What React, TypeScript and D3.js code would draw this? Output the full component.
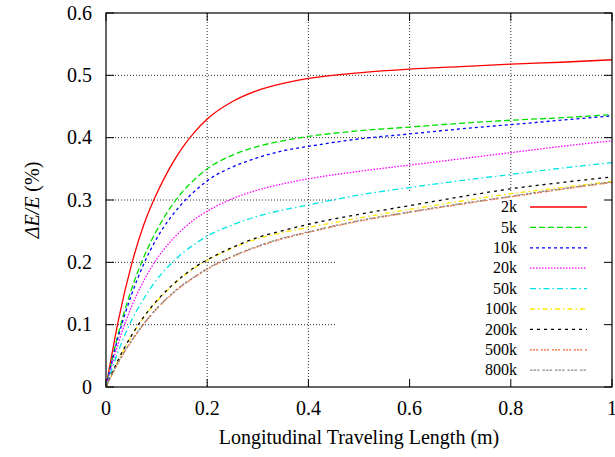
import React from 'react';
import * as d3 from 'd3';

const lengths = [0, 0.025, 0.05, 0.075, 0.1, 0.125, 0.15, 0.175, 0.2, 0.25, 0.3, 0.35, 0.4, 0.5, 0.6, 0.7, 0.8, 0.9, 1.0];

const s2k = [0, 0.109, 0.195, 0.261, 0.31, 0.35, 0.383, 0.409, 0.43, 0.458, 0.476, 0.487, 0.495, 0.504, 0.51, 0.514, 0.518, 0.521, 0.525];
const s5k = [0, 0.088, 0.156, 0.209, 0.251, 0.285, 0.312, 0.333, 0.35, 0.372, 0.386, 0.395, 0.402, 0.411, 0.417, 0.423, 0.428, 0.432, 0.437];
const s10k = [0, 0.083, 0.147, 0.198, 0.238, 0.269, 0.294, 0.314, 0.331, 0.353, 0.368, 0.379, 0.386, 0.398, 0.406, 0.414, 0.421, 0.428, 0.435];
const s20k = [0, 0.072, 0.128, 0.171, 0.205, 0.231, 0.252, 0.269, 0.282, 0.302, 0.316, 0.326, 0.334, 0.346, 0.356, 0.366, 0.376, 0.386, 0.395];
const s50k = [0, 0.059, 0.106, 0.142, 0.172, 0.195, 0.214, 0.229, 0.242, 0.26, 0.274, 0.284, 0.292, 0.308, 0.32, 0.331, 0.341, 0.351, 0.36];
const s100k = [0, 0.044, 0.081, 0.112, 0.137, 0.158, 0.176, 0.191, 0.203, 0.223, 0.238, 0.248, 0.256, 0.271, 0.285, 0.298, 0.31, 0.32, 0.33];
const s200k = [0, 0.045, 0.082, 0.113, 0.138, 0.159, 0.177, 0.192, 0.204, 0.224, 0.24, 0.251, 0.261, 0.277, 0.291, 0.305, 0.318, 0.328, 0.337];
const s500k = [0, 0.04, 0.073, 0.101, 0.125, 0.145, 0.162, 0.176, 0.189, 0.209, 0.225, 0.238, 0.248, 0.266, 0.28, 0.293, 0.305, 0.317, 0.328];
const s800k = [0, 0.041, 0.074, 0.102, 0.126, 0.146, 0.163, 0.177, 0.19, 0.21, 0.226, 0.239, 0.249, 0.267, 0.281, 0.294, 0.306, 0.318, 0.329];

const names = ['2k', '5k', '10k', '20k', '50k', '100k', '200k', '500k', '800k'];
const seriesValues = [s2k, s5k, s10k, s20k, s50k, s100k, s200k, s500k, s800k];
const colors = ['#ff0000', '#00e000', '#0000ff', '#ff00ff', '#00e5e5', '#ffe800', '#000000', '#ff6a30', '#8a8a8a'];
const dashes = ['', '6,3', '3,3', '1.5,1.5', '6,3,1.5,3', '5,3,1.5,3', '3,4', '2,1,2,1,2,3', '2.5,1,2.5,1,2.5,3'];

const xTicks = [0, 0.2, 0.4, 0.6, 0.8, 1];
const yTicks = [0, 0.1, 0.2, 0.3, 0.4, 0.5, 0.6];

const W = 615;
const H = 457;
const L = 106, R = 612, T = 13, B = 387;
const font = '"Liberation Serif", "Times New Roman", serif';
const tickFont = {fontFamily: font, fontSize: '20px'};
const keyFont = {fontFamily: font, fontSize: '16px'};

export default function App() {
  const x = d3.scaleLinear().domain([0, 1]).range([L, R]);
  const y = d3.scaleLinear().domain([0, 0.6]).range([B, T]);

  const line = d3.line<number>()
    .x((_, i) => x(lengths[i]))
    .y(d => y(d))
    .curve(d3.curveMonotoneX);

  // key box hides the grid
  const key = {x0: 335, y0: 193};
  const rowY = (i: number) => 207 + i * 20.4;

  const gridStyle = {stroke: '#333', strokeWidth: 1, strokeDasharray: '1,2'};

  return (
    <svg width={W} height={H} style={{position: 'absolute', left: 0, top: 0, background: '#fff'}}>
      {/* grid */}
      {yTicks.slice(1, -1).map(t => (
        <line key={'gy' + t} x1={L} x2={y(t) > key.y0 ? key.x0 : R} y1={y(t)} y2={y(t)} {...gridStyle} />
      ))}
      {xTicks.slice(1, -1).map(t => (
        <line key={'gx' + t} x1={x(t)} x2={x(t)} y1={T} y2={x(t) > key.x0 ? key.y0 : B} {...gridStyle} />
      ))}

      {/* ticks, all four sides */}
      {yTicks.map(t => (
        <g key={'ty' + t}>
          <line x1={L} x2={L + 8} y1={y(t)} y2={y(t)} stroke="#000" />
          <line x1={R} x2={R - 8} y1={y(t)} y2={y(t)} stroke="#000" />
          <text x={92} y={y(t)} dy="0.33em" textAnchor="end" style={tickFont}>{t}</text>
        </g>
      ))}
      {xTicks.map(t => (
        <g key={'tx' + t}>
          <line x1={x(t)} x2={x(t)} y1={B} y2={B - 8} stroke="#000" />
          <line x1={x(t)} x2={x(t)} y1={T} y2={T + 8} stroke="#000" />
          <text x={x(t)} y={415} textAnchor="middle" style={tickFont}>{t}</text>
        </g>
      ))}

      {/* curves */}
      {seriesValues.map((vals, i) => (
        <path key={names[i]} d={line(vals) || ''} fill="none" stroke={colors[i]}
              strokeWidth={1.3} strokeDasharray={dashes[i]} />
      ))}

      {/* legend */}
      {names.map((n, i) => (
        <g key={'k' + n}>
          <text x={517} y={rowY(i)} dy="0.33em" textAnchor="end" style={keyFont}>{n}</text>
          <line x1={530} x2={587} y1={rowY(i)} y2={rowY(i)} stroke={colors[i]}
                strokeWidth={1.3} strokeDasharray={dashes[i]} />
        </g>
      ))}

      {/* frame */}
      <rect x={L} y={T} width={R - L} height={B - T} fill="none" stroke="#000" strokeWidth={1.2} />

      {/* axis titles */}
      <text x={(L + R) / 2} y={444} textAnchor="middle" style={tickFont}>Longitudinal Traveling Length (m)</text>
      <text transform={`translate(39,${(T + B) / 2}) rotate(-90)`} textAnchor="middle" style={tickFont}>
        <tspan fontStyle="italic">ΔE/E</tspan> (%)
      </text>
    </svg>
  );
}
